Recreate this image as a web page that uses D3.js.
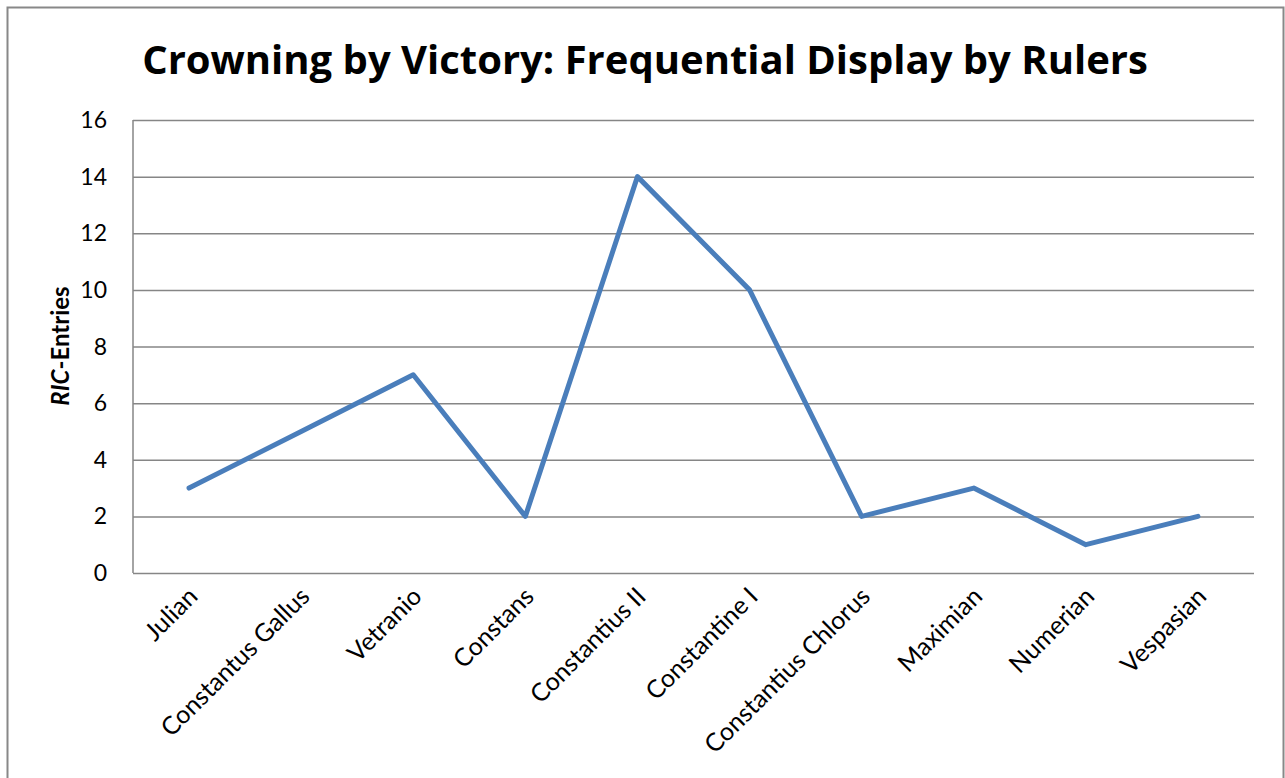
<!DOCTYPE html>
<meta charset="utf-8">
<head>
  <title>Crowning by Victory</title>
  <style>
    body { margin: 0; background: #fff; }
    text { font-family: Lato, "Open Sans", sans-serif; fill: #000; }
    .grid line { stroke: #868686; stroke-width: 1.5px; }
    .grid path { display: none; }
    .line { fill: none; stroke: #4a7ebb; stroke-width: 5px; stroke-linejoin: round; stroke-linecap: round; }
  </style>
</head>
<body>
  <svg width="1285" height="778"></svg>
  <script src="https://d3js.org/d3.v7.min.js"></script>
  <script>
    var rulers = ["Julian", "Constantus Gallus", "Vetranio", "Constans", "Constantius II",
                  "Constantine I", "Constantius Chlorus", "Maximian", "Numerian", "Vespasian"];
    var entries = [3, 5, 7, 2, 14, 10, 2, 3, 1, 2];
    var yTicks = [0, 2, 4, 6, 8, 10, 12, 14, 16];

    var svg = d3.select("svg");
    var margin = {left: 133, right: 1254, top: 120, bottom: 573};

    // outer frame (bottom edge falls outside the picture)
    svg.append("rect")
        .attr("x", 7.5).attr("y", 7.5)
        .attr("width", 1276).attr("height", 800)
        .attr("fill", "none").attr("stroke", "#888").attr("stroke-width", 2);

    var x = d3.scaleBand().domain(rulers).range([margin.left, margin.right]);
    var y = d3.scaleLinear().domain([0, 16]).range([margin.bottom, margin.top]);

    // horizontal gridlines
    svg.append("g").attr("class", "grid")
        .attr("transform", "translate(" + margin.left + ",0)")
        .call(d3.axisLeft(y).tickValues(yTicks).tickSize(-(margin.right - margin.left)).tickFormat(""));

    // left axis line
    svg.append("line")
        .attr("x1", margin.left).attr("x2", margin.left)
        .attr("y1", margin.top).attr("y2", margin.bottom)
        .attr("stroke", "#868686").attr("stroke-width", 1.5);

    // y tick labels
    svg.selectAll(".ylab").data(yTicks).enter().append("text")
        .attr("class", "ylab")
        .attr("x", 107).attr("y", function(d) { return y(d); })
        .attr("dy", "0.35em")
        .attr("text-anchor", "end")
        .style("font-size", "23px")
        .text(function(d) { return d; });

    // x labels, rotated
    svg.selectAll(".xlab").data(rulers).enter().append("text")
        .attr("class", "xlab")
        .attr("text-anchor", "end")
        .attr("transform", function(d) {
          return "translate(" + (x(d) + x.bandwidth() / 2 + 10) + ",598)rotate(-45)";
        })
        .style("font-size", "25px")
        .text(function(d) { return d; });

    // line
    var line = d3.line()
        .x(function(d, i) { return x(rulers[i]) + x.bandwidth() / 2; })
        .y(function(d) { return y(d); });

    svg.append("path").datum(entries)
        .attr("class", "line")
        .attr("d", line);

    // title
    svg.append("text")
        .attr("x", 645).attr("y", 74)
        .attr("text-anchor", "middle")
        .style("font-family", "'Open Sans', sans-serif")
        .style("font-size", "40px").style("font-weight", "bold")
        .text("Crowning by Victory: Frequential Display by Rulers");

    // y axis title
    var yt = svg.append("text")
        .attr("transform", "translate(69,346)rotate(-90)")
        .attr("text-anchor", "middle")
        .style("font-size", "24px").style("font-weight", "bold");
    yt.append("tspan").style("font-style", "italic").text("RIC");
    yt.append("tspan").text("-Entries");
  </script>
</body>
</html>
